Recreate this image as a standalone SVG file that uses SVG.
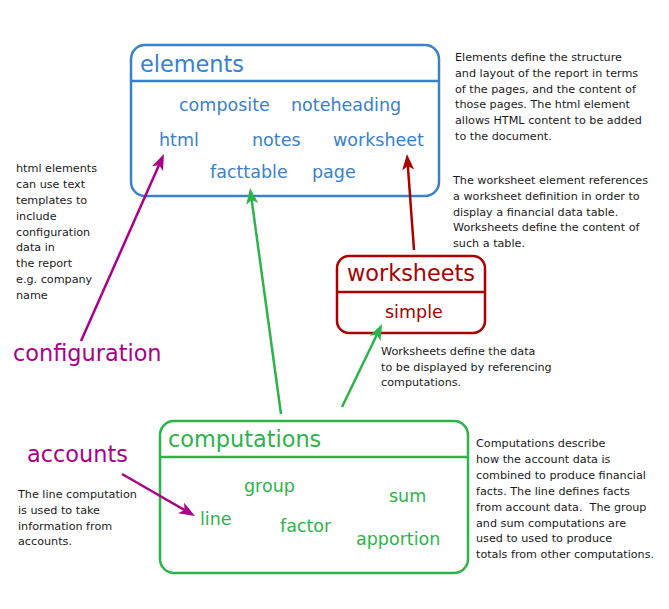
<svg xmlns="http://www.w3.org/2000/svg" width="669" height="609" viewBox="0 0 669 609">
<style>
text{font-family:"DejaVu Sans","Liberation Sans",sans-serif}
.box{fill:none;stroke-width:2.5}
.t{font-size:22.4px}
.i{font-size:17.5px}
.n{font-size:11.2px;fill:#1a1a1a}
.blue{fill:#3a80cc}.green{fill:#2db34a}.red{fill:#aa0000}.mag{fill:#aa0088}
.c{fill:none;stroke-width:2.5}
</style>
<defs>
<marker id="am" markerUnits="userSpaceOnUse" markerWidth="20" markerHeight="14" viewBox="0 -7 20 14" refX="6" refY="0" orient="auto"><path d="M16,0 L0,-6 L4,0 L0,6 Z" fill="#aa0088"/></marker>
<marker id="ag" markerUnits="userSpaceOnUse" markerWidth="20" markerHeight="14" viewBox="0 -7 20 14" refX="6" refY="0" orient="auto"><path d="M16,0 L0,-6 L4,0 L0,6 Z" fill="#2db34a"/></marker>
<marker id="ar" markerUnits="userSpaceOnUse" markerWidth="20" markerHeight="14" viewBox="0 -7 20 14" refX="6" refY="0" orient="auto"><path d="M16,0 L0,-6 L4,0 L0,6 Z" fill="#aa0000"/></marker>
</defs>
<rect width="669" height="609" fill="#fff"/>

<g id="elements">
<rect class="box" x="131" y="45" width="308" height="151" rx="14" stroke="#3a80cc"/>
<line x1="131" y1="81" x2="439" y2="81" stroke="#3a80cc" stroke-width="2.5"/>
<text class="t blue" x="140" y="72">elements</text>
<text class="i blue" x="179" y="111">composite</text>
<text class="i blue" x="291" y="111">noteheading</text>
<text class="i blue" x="159" y="146">html</text>
<text class="i blue" x="252" y="146">notes</text>
<text class="i blue" x="333" y="146">worksheet</text>
<text class="i blue" x="210" y="178">facttable</text>
<text class="i blue" x="312" y="178">page</text>
</g>

<g id="worksheets">
<rect class="box" x="337" y="256" width="148" height="77" rx="12" stroke="#aa0000"/>
<line x1="337" y1="292" x2="485" y2="292" stroke="#aa0000" stroke-width="2.5"/>
<text class="t red" x="347" y="281">worksheets</text>
<text class="i red" x="385" y="318">simple</text>
</g>

<g id="computations">
<rect class="box" x="160" y="421" width="308" height="152" rx="14" stroke="#2db34a"/>
<line x1="160" y1="457" x2="468" y2="457" stroke="#2db34a" stroke-width="2.5"/>
<text class="t green" x="168" y="447">computations</text>
<text class="i green" x="244" y="492">group</text>
<text class="i green" x="389" y="502">sum</text>
<text class="i green" x="200" y="525">line</text>
<text class="i green" x="280" y="532">factor</text>
<text class="i green" x="356" y="545">apportion</text>
</g>

<g id="configuration">
<text class="t mag" x="13" y="361">configuration</text>
</g>
<g id="accounts">
<text class="t mag" x="27" y="462">accounts</text>
</g>

<g id="connectors">
<line class="c" x1="81" y1="341" x2="159.9" y2="163.1" stroke="#aa0088" marker-end="url(#am)"/>
<line class="c" x1="281" y1="414" x2="251.4" y2="197.9" stroke="#2db34a" marker-end="url(#ag)"/>
<line class="c" x1="342" y1="407" x2="377.7" y2="333" stroke="#2db34a" marker-end="url(#ag)"/>
<line class="c" x1="414" y1="250" x2="407.7" y2="164" stroke="#aa0000" marker-end="url(#ar)"/>
<line class="c" x1="122" y1="474" x2="186.3" y2="511" stroke="#aa0088" marker-end="url(#am)"/>
</g>

<g id="notes">
<text class="n" x="455"><tspan x="455" y="61">Elements define the structure</tspan><tspan x="455" y="77">and layout of the report in terms</tspan><tspan x="455" y="93">of the pages, and the content of</tspan><tspan x="455" y="108">those pages. The html element</tspan><tspan x="455" y="124">allows HTML content to be added</tspan><tspan x="455" y="140">to the document.</tspan></text>
<text class="n" x="453"><tspan x="453" y="184">The worksheet element references</tspan><tspan x="453" y="200">a worksheet definition in order to</tspan><tspan x="453" y="216">display a financial data table.</tspan><tspan x="453" y="231">Worksheets define the content of</tspan><tspan x="453" y="247">such a table.</tspan></text>
<text class="n" x="16"><tspan x="16" y="172">html elements</tspan><tspan x="16" y="188">can use text</tspan><tspan x="16" y="204">templates to</tspan><tspan x="16" y="220">include</tspan><tspan x="16" y="236">configuration</tspan><tspan x="16" y="251">data in</tspan><tspan x="16" y="267">the report</tspan><tspan x="16" y="283">e.g. company</tspan><tspan x="16" y="299">name</tspan></text>
<text class="n" x="381"><tspan x="381" y="355">Worksheets define the data</tspan><tspan x="381" y="371">to be displayed by referencing</tspan><tspan x="381" y="386">computations.</tspan></text>
<text class="n" x="476"><tspan x="476" y="447">Computations describe</tspan><tspan x="476" y="463">how the account data is</tspan><tspan x="476" y="479">combined to produce financial</tspan><tspan x="476" y="495">facts. The line defines facts</tspan><tspan x="476" y="511" xml:space="preserve">from account data.  The group</tspan><tspan x="476" y="527">and sum computations are</tspan><tspan x="476" y="542">used to used to produce</tspan><tspan x="476" y="558">totals from other computations.</tspan></text>
<text class="n" x="18"><tspan x="18" y="498">The line computation</tspan><tspan x="18" y="514">is used to take</tspan><tspan x="18" y="530">information from</tspan><tspan x="18" y="545">accounts.</tspan></text>
</g>
</svg>
